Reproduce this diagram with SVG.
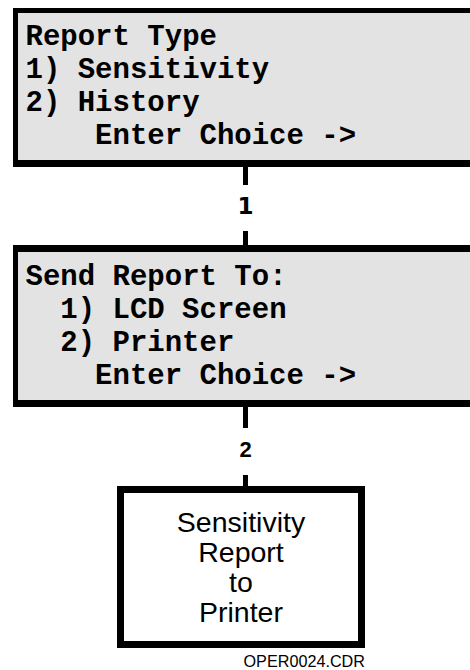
<svg xmlns="http://www.w3.org/2000/svg" width="470" height="670" viewBox="0 0 470 670">
<style>
.panel{fill:#e3e3e3}
.bd{fill:#000}
.mono{font-family:"Liberation Mono","Courier New",monospace;font-weight:bold;font-size:29px;fill:#000}
.conn{stroke:#000;stroke-width:5;fill:none}
.lbl{font-family:"Liberation Sans",Arial,sans-serif;font-weight:bold;font-size:22px;text-anchor:middle;fill:#000}
.lbl1{font-family:"DejaVu Sans",sans-serif;font-weight:bold;font-size:23px;text-anchor:middle;fill:#000}
.res{font-family:"Liberation Sans",Arial,sans-serif;font-size:28.5px;text-anchor:middle;fill:#000}
.foot{font-family:"Liberation Sans",Arial,sans-serif;font-size:16.2px;text-anchor:end;fill:#000}
</style>
<rect width="470" height="670" fill="#fff"/>
<g id="report-type">
<rect class="panel" x="13" y="8" width="460" height="159"/>
<rect class="bd" x="13" y="8" width="460" height="5"/>
<rect class="bd" x="13" y="8" width="5" height="159"/>
<rect class="bd" x="13" y="160" width="460" height="7"/>
<text class="mono" x="25.5" y="45">Report Type</text>
<text class="mono" x="25.5" y="78">1) Sensitivity</text>
<text class="mono" x="25.5" y="111">2) History</text>
<text class="mono" x="95.1" y="144">Enter Choice -&gt;</text>
</g>
<g id="send-report">
<rect class="panel" x="13" y="245" width="460" height="162"/>
<rect class="bd" x="13" y="245" width="460" height="7"/>
<rect class="bd" x="13" y="245" width="5" height="162"/>
<rect class="bd" x="13" y="400" width="460" height="7"/>
<text class="mono" x="25.5" y="285">Send Report To:</text>
<text class="mono" x="60.3" y="318">1) LCD Screen</text>
<text class="mono" x="60.3" y="351">2) Printer</text>
<text class="mono" x="95.1" y="384">Enter Choice -&gt;</text>
</g>
<g id="result">
<rect x="120.5" y="489.5" width="241" height="155" fill="#fff" stroke="#000" stroke-width="7"/>
<text class="res" x="241" y="532">Sensitivity</text>
<text class="res" x="241" y="562">Report</text>
<text class="res" x="241" y="592">to</text>
<text class="res" x="241" y="622">Printer</text>
</g>
<g id="connectors">
<line class="conn" x1="245.5" y1="167" x2="245.5" y2="185"/>
<line class="conn" x1="245.5" y1="231" x2="245.5" y2="245"/>
<text class="lbl1" x="245.5" y="214">1</text>
<line class="conn" x1="245.5" y1="407" x2="245.5" y2="428"/>
<line class="conn" x1="245.5" y1="475" x2="245.5" y2="486"/>
<text class="lbl" x="245.5" y="457">2</text>
</g>
<text class="foot" x="365" y="667">OPER0024.CDR</text>
</svg>
